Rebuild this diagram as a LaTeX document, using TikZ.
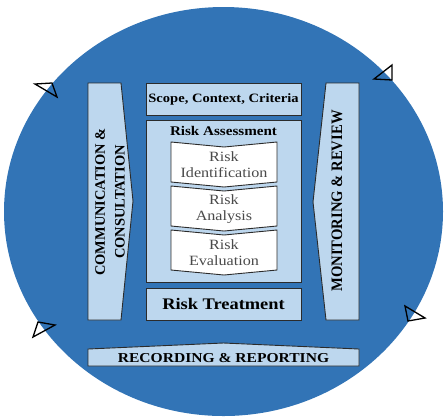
\documentclass[tikz,border=0pt]{standalone}
\usepackage{fontspec}
\setmainfont[FakeStretch=1.14]{Liberation Serif}
\newfontfamily\plainserif{Liberation Serif}
\definecolor{circblue}{HTML}{3274B6}
\definecolor{boxblue}{HTML}{BDD7EE}
\definecolor{edge}{HTML}{2B2B2B}
\definecolor{txtgray}{HTML}{4A4A4A}
\begin{document}
\begin{tikzpicture}[x=1bp,y=-1bp,
  box/.style={fill=boxblue,draw=edge,line width=0.9bp},
  wbox/.style={fill=white,draw=edge,line width=0.9bp},
  tri/.style={draw=black,line width=1.3bp,line join=miter},
  btxt/.style={text=black,inner sep=0pt},
  wtxt/.style={font=\fontsize{14.2}{16}\selectfont,text=txtgray,align=center,inner sep=0pt}]
\useasboundingbox (0,0) rectangle (448,419);
% big ellipse
\fill[circblue] (223.5,211.5) ellipse [x radius=219.5, y radius=204.5];
% triangles
\draw[tri] (35,84) -- (52,83) -- (57,97) -- cycle;
\draw[tri] (374,79) -- (392,80) -- (392,65) -- cycle;
\draw[tri] (405,306) -- (425,318) -- (408,321) -- cycle;
\draw[tri] (38,322) -- (55,325) -- (33,337) -- cycle;
% left box
\draw[box] (88,83) -- (121,83) -- (133,201) -- (121,320) -- (88,320) -- cycle;
% right box
\draw[box] (326,83) -- (359,83) -- (359,320) -- (326,320) -- (313,202) -- cycle;
% centre boxes
\draw[box] (146,83) rectangle (301,115);
\draw[box] (146,120) rectangle (301,282);
\draw[box] (146,288) rectangle (301,320);
% recording
\draw[box] (88,349) -- (223.5,343) -- (359,349) -- (359,366) -- (88,366) -- cycle;
% chevrons
\draw[wbox] (171,142) -- (224,147) -- (277,142) -- (277,182) -- (224,187) -- (171,182) -- cycle;
\draw[wbox] (171,186) -- (224,191) -- (277,186) -- (277,226) -- (224,231) -- (171,226) -- cycle;
\draw[wbox] (171,230) -- (224,235) -- (277,230) -- (277,270) -- (224,275) -- (171,270) -- cycle;
% texts
\node[btxt,font=\bfseries\fontsize{12.8}{14}\selectfont] (scope) at (223.5,99) {Scope, Context, Criteria};
\node[btxt,font=\bfseries\fontsize{13.3}{14}\selectfont] (assess) at (223.5,131) {Risk Assessment};
\node[wtxt] (ident) at (224,165) {Risk\\Identification};
\node[wtxt] (anal) at (224,209) {Risk\\Analysis};
\node[wtxt] (eval) at (224,253) {Risk\\Evaluation};
\node[btxt,font=\bfseries\fontsize{16.2}{18}\selectfont] (treat) at (223.5,304) {Risk Treatment};
\node[btxt,font=\bfseries\fontsize{13.7}{15}\selectfont] (rec) at (223.5,358.5) {RECORDING \& REPORTING};
\node[btxt,rotate=90,align=center,font=\plainserif\bfseries\fontsize{14.5}{20}\selectfont] (comm) at (110,202) {COMMUNICATION \&\\CONSULTATION};
\node[btxt,rotate=90] (mon) at (337,201) {\scalebox{0.92}[1]{\plainserif\bfseries\fontsize{16}{17}\selectfont MONITORING \& REVIEW}};
\end{tikzpicture}
\end{document}
